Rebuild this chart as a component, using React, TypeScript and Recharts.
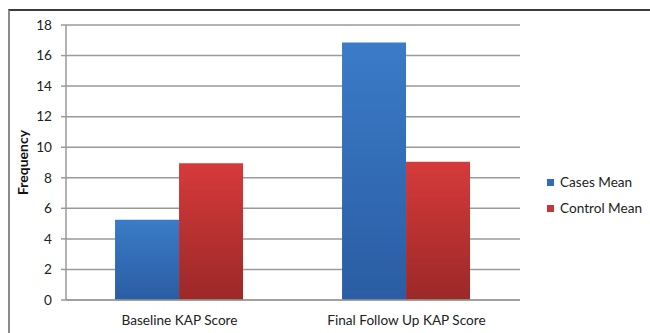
import React from "react";
import { BarChart, Bar, XAxis, YAxis, CartesianGrid, Legend } from "recharts";

const categories = ["Baseline KAP Score", "Final Follow Up KAP Score"];
const casesMean = [5.25, 16.85];
const controlMean = [8.95, 9.05];
const yTicks = [0, 2, 4, 6, 8, 10, 12, 14, 16, 18];

const data = categories.map((name, i) => ({
  name,
  cases: casesMean[i],
  control: controlMean[i],
}));

const FONT = "Lato, 'Open Sans', sans-serif";

const legendItems = [
  { label: "Cases Mean", color: "#2f6bb8" },
  { label: "Control Mean", color: "#c93434" },
];

const LegendBox = () => (
  <div style={{ fontFamily: FONT, fontSize: 13.6, color: "#222" }}>
    {legendItems.map((it) => (
      <div key={it.label} style={{ display: "flex", alignItems: "center", height: 26 }}>
        <span
          style={{
            display: "inline-block",
            width: 7,
            height: 7,
            background: it.color,
            marginRight: 6,
          }}
        />
        <span>{it.label}</span>
      </div>
    ))}
  </div>
);

export default function App() {
  return (
    <div
      style={{
        position: "absolute",
        left: 0,
        top: 0,
        width: 650,
        height: 333,
        background: "#fff",
        overflow: "hidden",
      }}
    >
      <div
        style={{
          position: "absolute",
          left: 8,
          top: 9,
          width: 700,
          height: 400,
          borderLeft: "2px solid #8a8a8a",
          borderTop: "2px solid #3c3c3c",
        }}
      />
      <div style={{ position: "absolute", left: 0, top: 0 }}>
        <BarChart
          width={650}
          height={333}
          data={data}
          margin={{ top: 25, right: 130, bottom: 2, left: 26 }}
          barCategoryGap="21.6%"
          barGap={0}
        >
          <defs>
            <linearGradient id="gBlue" x1="0" y1="0" x2="0" y2="1">
              <stop offset="0%" stopColor="#3b7bc8" />
              <stop offset="100%" stopColor="#2a5da3" />
            </linearGradient>
            <linearGradient id="gRed" x1="0" y1="0" x2="0" y2="1">
              <stop offset="0%" stopColor="#d63a3a" />
              <stop offset="100%" stopColor="#9c2828" />
            </linearGradient>
          </defs>
          <CartesianGrid vertical={false} stroke="#9a9a9a" strokeWidth={1.5} />
          <XAxis
            dataKey="name"
            height={31}
            tickLine={false}
            axisLine={{ stroke: "#9a9a9a", strokeWidth: 1.5 }}
            tick={{ fill: "#222", fontSize: 13.6, fontFamily: FONT }}
            tickMargin={9}
          />
          <YAxis
            width={40}
            domain={[0, 18]}
            ticks={yTicks}
            interval={0}
            axisLine={{ stroke: "#9a9a9a", strokeWidth: 1.5 }}
            tickLine={{ stroke: "#9a9a9a", strokeWidth: 1.5 }}
            tickSize={5}
            tickMargin={9}
            tick={{ fill: "#222", fontSize: 13.6, fontFamily: FONT }}
            label={{
              value: "Frequency",
              angle: -90,
              position: "insideLeft",
              offset: -3,
              style: {
                fontFamily: FONT,
                fontSize: 14,
                fontWeight: 700,
                fill: "#111",
                textAnchor: "middle",
              },
            }}
          />
          <Legend
            layout="horizontal"
            verticalAlign="middle"
            align="center"
            content={() => <LegendBox />}
            wrapperStyle={{ left: 547, top: 169, width: 110 }}
          />
          <Bar dataKey="cases" name="Cases Mean" fill="url(#gBlue)" isAnimationActive={false} />
          <Bar dataKey="control" name="Control Mean" fill="url(#gRed)" isAnimationActive={false} />
        </BarChart>
      </div>
    </div>
  );
}
